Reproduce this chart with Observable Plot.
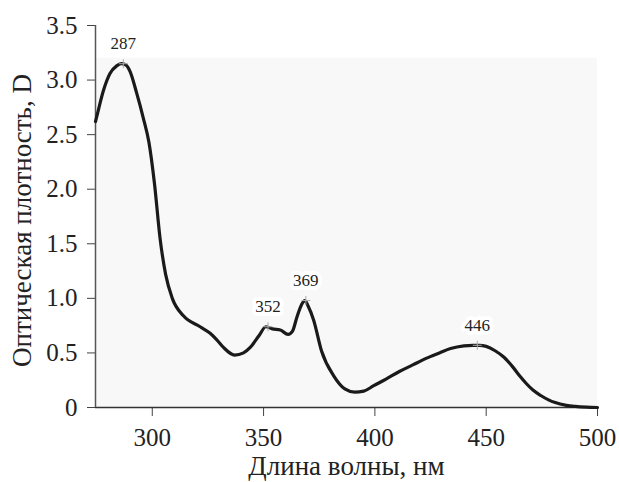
<!DOCTYPE html>
<html>
<head>
<meta charset="utf-8">
<script src="https://cdn.jsdelivr.net/npm/d3@7"></script>
<script src="https://cdn.jsdelivr.net/npm/@observablehq/plot@0.6"></script>
<style>
  html, body { margin: 0; padding: 0; background: #fff; }
</style>
</head>
<body>
<div id="chart"></div>
<script>
// Spectrum data (wavelength, nm / optical density, D)
const wavelength = [274.5, 275, 278, 281, 284, 286, 288, 290, 293, 296, 298.5, 301, 303.5, 306, 309, 314, 321.5, 326, 329, 332, 337, 341, 344, 348, 351, 354, 357.5, 361, 363, 365, 367, 368.5, 370, 372.5, 376, 381.5, 386.5, 391, 395, 399.5, 405, 411, 417, 423, 429, 434, 440, 444, 447, 450, 454, 458, 462, 465, 468, 471, 474.5, 478, 481, 486, 490, 495, 500];
const density = [2.62, 2.66, 2.90, 3.06, 3.13, 3.15, 3.14, 3.08, 2.88, 2.65, 2.43, 2.05, 1.55, 1.22, 1.00, 0.84, 0.74, 0.68, 0.62, 0.55, 0.48, 0.50, 0.55, 0.66, 0.74, 0.72, 0.71, 0.67, 0.70, 0.83, 0.94, 0.98, 0.93, 0.80, 0.52, 0.29, 0.17, 0.14, 0.15, 0.20, 0.26, 0.33, 0.39, 0.45, 0.50, 0.54, 0.565, 0.57, 0.57, 0.56, 0.52, 0.46, 0.37, 0.29, 0.22, 0.16, 0.11, 0.07, 0.045, 0.02, 0.01, 0.003, 0];

// Peak annotations
const peakNm = [287, 352, 369, 446];
const peakD = [3.15, 0.74, 0.98, 0.57];

// Axis ticks and labels
const xTicks = [300, 350, 400, 450, 500];
const yTicks = [0, 0.5, 1.0, 1.5, 2.0, 2.5, 3.0, 3.5];
const xDomain = [274.5, 500];
const yDomain = [0, 3.5];
const panelTop = [3.2];
const xTitle = ["Длина волны, нм"];
const yTitle = ["Оптическая плотность, D"];

const spectrum = wavelength.map((w, i) => ({w, d: density[i]}));
const peaks = peakNm.map((w, i) => ({w, d: peakD[i], label: String(w)}));

const font = "Liberation Serif";

const chart = Plot.plot({
  width: 619,
  height: 482,
  marginLeft: 95,
  marginRight: 22,
  marginTop: 25,
  marginBottom: 75,
  style: {fontFamily: font, fontSize: "25px", background: "#fff", color: "#222"},
  x: {domain: xDomain, ticks: xTicks},
  y: {domain: yDomain, ticks: yTicks},
  marks: [
    Plot.rect(panelTop, {x1: xDomain[0], x2: xDomain[1], y1: 0, y2: d => d, fill: "#f8f8f8"}),
    Plot.axisX({ticks: xTicks, tickSize: 9, tickPadding: 12, fontSize: 25, fontFamily: font, stroke: "#444", label: null}),
    Plot.axisY({ticks: yTicks, tickSize: 8, tickPadding: 10, fontSize: 25, fontFamily: font, stroke: "#444",
      tickFormat: d => d === 0 ? "0" : d.toFixed(1), label: null}),
    Plot.text(xTitle, {frameAnchor: "bottom", dy: 59, lineAnchor: "middle", textAnchor: "middle", fontSize: 27, fontFamily: font, fill: "#222"}),
    Plot.text(yTitle, {frameAnchor: "left", rotate: -90, dx: -73, dy: 4, lineAnchor: "middle", textAnchor: "middle", fontSize: 27, fontFamily: font, fill: "#222"}),
    Plot.ruleY([yDomain[0]], {stroke: "#333", strokeWidth: 1.5}),
    Plot.ruleX([xDomain[0]], {stroke: "#555", strokeWidth: 1.5}),
    Plot.line(spectrum, {x: "w", y: "d", stroke: "#1a1a1a", strokeWidth: 3.2, curve: "monotone-x"}),
    Plot.dot(peaks, {x: "w", y: "d", symbol: "plus", r: 3, stroke: "#aaa", strokeWidth: 1}),
    Plot.text(peaks, {x: "w", y: "d", text: "label", dy: -20, fontSize: 17, fill: "#222",
      stroke: "white", strokeWidth: 8, fontFamily: font})
  ]
});

document.getElementById("chart").appendChild(chart);
</script>
</body>
</html>
